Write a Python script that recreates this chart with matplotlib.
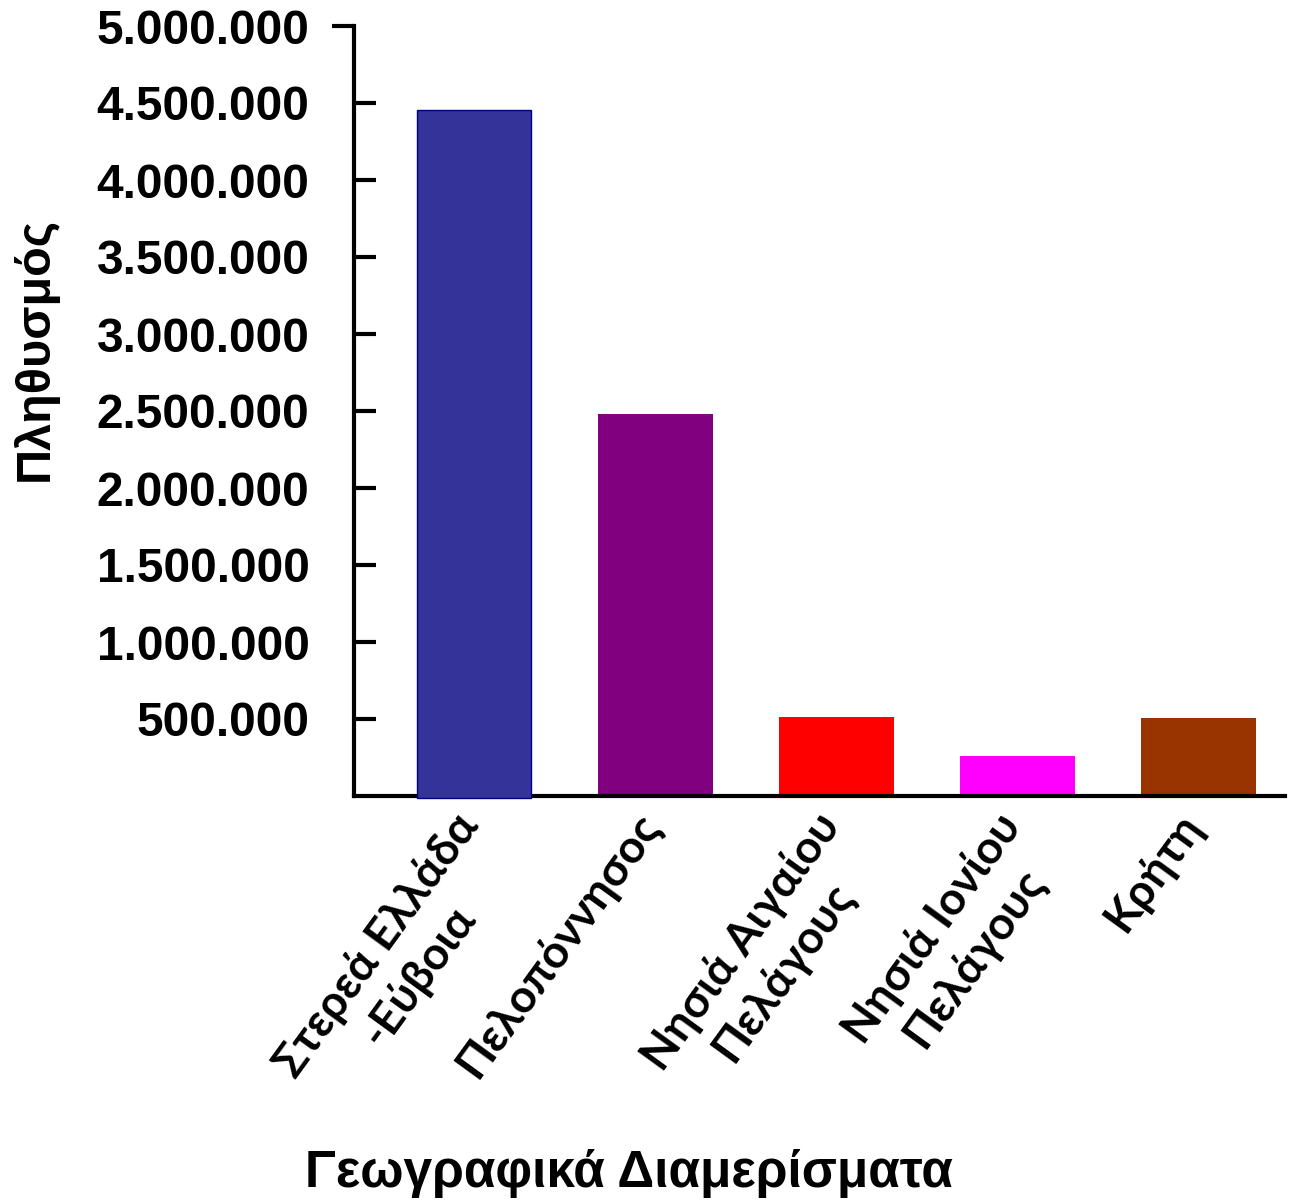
import matplotlib
matplotlib.use("Agg")
import matplotlib.pyplot as plt
import matplotlib.transforms as mtransforms
from matplotlib.ticker import FuncFormatter

# -------------------
# Data
# -------------------
regions = ["Στερεά Ελλάδα\n-Εύβοια", "Πελοπόννησος", "Νησιά Αιγαίου\nΠελάγους",
           "Νησιά Ιονίου\nΠελάγους", "Κρήτη"]
population = [4455000, 2480000, 513000, 262000, 506000]
colors = ["#333399", "#800080", "#FF0000", "#FF00FF", "#993300"]
yticks = [500000, 1000000, 1500000, 2000000, 2500000, 3000000, 3500000, 4000000, 4500000]

W, H = 1290, 1202
fig = plt.figure(figsize=(W / 100, H / 100), dpi=100)
ax = fig.add_axes([354 / W, 1 - 796 / H, (1285 - 354) / W, (796 - 26) / H])

bars = ax.bar(range(len(regions)), population, width=0.635, color=colors, zorder=1)
# first bar sits over the axis line with a dark outline
bars[0].set_edgecolor("#000080")
bars[0].set_linewidth(1.0)
bars[0].set_zorder(5)
bars[0].set_clip_on(False)
bars[0].set_y(-15000)
bars[0].set_height(population[0] + 15000)

ax.set_xlim(-0.663, 4.48)
ax.set_ylim(0, 5000000)

for s in ["top", "right"]:
    ax.spines[s].set_visible(False)
for s in ["left", "bottom"]:
    ax.spines[s].set_linewidth(3.0)
    ax.spines[s].set_zorder(3)

fmt = FuncFormatter(lambda v, p: f"{int(v):,}".replace(",", "."))
ax.set_yticks(yticks)
ax.set_yticks([5000000], minor=True)
ax.yaxis.set_major_formatter(fmt)
ax.yaxis.set_minor_formatter(fmt)
ax.tick_params(axis="y", which="major", direction="in", length=16, width=3, pad=32)
ax.tick_params(axis="y", which="minor", direction="out", length=16, width=3, pad=16)
for lab in ax.get_yticklabels(which="both"):
    lab.set_fontfamily("Liberation Sans")
    lab.set_fontweight("bold")
    lab.set_fontsize(34.5)

ax.set_xticks(range(len(regions)))
ax.set_xticklabels(regions, rotation=54, ha="right", va="top",
                   rotation_mode="anchor", family="Lato", fontweight="bold",
                   fontsize=33, multialignment="center", linespacing=1.25)
ax.tick_params(axis="x", length=0, pad=7)
shift = mtransforms.ScaledTranslation(-22 / 100, 0, fig.dpi_scale_trans)
for lab in ax.get_xticklabels():
    lab.set_transform(lab.get_transform() + shift)

fig.text(35 / W, 1 - 349 / H, "Πληθυσμός", rotation=90, ha="center", va="center",
         family="Liberation Sans", fontweight="bold", fontsize=35)
fig.text(629 / W, 1 - 1174 / H, "Γεωγραφικά Διαμερίσματα", ha="center", va="center",
         family="Liberation Sans", fontweight="bold", fontsize=37)

fig.savefig("out.png", dpi=100)
